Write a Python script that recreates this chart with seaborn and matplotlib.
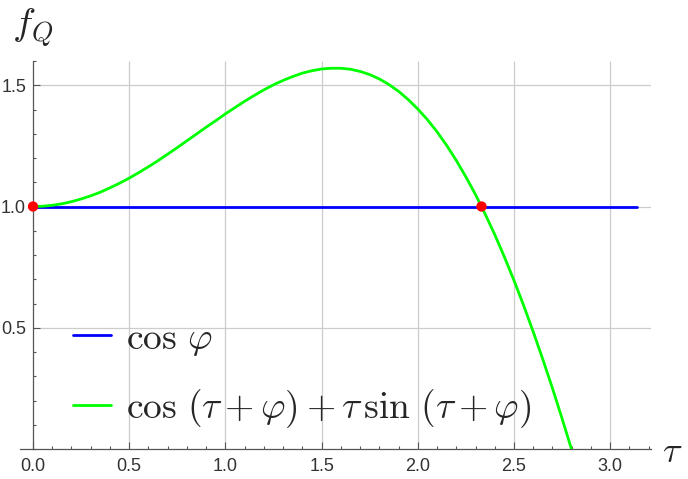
import matplotlib
matplotlib.use("Agg")
import matplotlib.pyplot as plt
import seaborn as sns
import pandas as pd
from matplotlib.ticker import MultipleLocator

# ---- data ----
tau_green = [0.0, 0.05, 0.1, 0.15, 0.2, 0.25, 0.3, 0.35, 0.4, 0.45, 0.5,
             0.55, 0.6, 0.65, 0.7, 0.75, 0.8, 0.85, 0.9, 0.95, 1.0,
             1.05, 1.1, 1.15, 1.2, 1.25, 1.3, 1.35, 1.4, 1.45, 1.5,
             1.55, 1.6, 1.65, 1.7, 1.75, 1.8, 1.85, 1.9, 1.95, 2.0,
             2.05, 2.1, 2.15, 2.2, 2.25, 2.3, 2.35, 2.4, 2.45, 2.5,
             2.55, 2.6, 2.65, 2.7, 2.75, 2.8]
f_green = [1.000, 1.001, 1.005, 1.011, 1.020, 1.031, 1.044, 1.059, 1.077, 1.096, 1.117,
           1.140, 1.164, 1.189, 1.216, 1.243, 1.271, 1.299, 1.327, 1.354, 1.382,
           1.408, 1.434, 1.458, 1.481, 1.502, 1.520, 1.536, 1.550, 1.560, 1.567,
           1.570, 1.570, 1.566, 1.557, 1.544, 1.526, 1.503, 1.475, 1.441, 1.402,
           1.358, 1.308, 1.252, 1.190, 1.122, 1.049, 0.969, 0.884, 0.792, 0.695,
           0.592, 0.483, 0.369, 0.250, 0.125, -0.004]
tau_blue = [0.0, 3.1416]
f_blue = [1.0, 1.0]
tau_points = [0.0, 2.331]
f_points = [1.0, 1.0]
x_ticks = [0.0, 0.5, 1.0, 1.5, 2.0, 2.5, 3.0]
x_ticklabels = ["0.0", "0.5", "1.0", "1.5", "2.0", "2.5", "3.0"]
y_ticks = [0.5, 1.0, 1.5]
y_ticklabels = ["0.5", "1.0", "1.5"]
label_blue = r"$\cos\,\varphi$"
label_green = r"$\cos\,(\tau+\varphi)+\tau\,\sin\,(\tau+\varphi)$"

sns.set_style("white")
plt.rcParams["font.family"] = ["Liberation Sans", "DejaVu Sans"]
plt.rcParams["mathtext.fontset"] = "cm"

df_blue = pd.DataFrame({"tau": tau_blue, "f": f_blue})
df_green = pd.DataFrame({"tau": tau_green, "f": f_green})
df_pts = pd.DataFrame({"tau": tau_points, "f": f_points})

fig = plt.figure(figsize=(6.88, 4.79), dpi=100)
ax = fig.add_axes([20 / 688, 30 / 479, 631 / 688, 388 / 479])

xmin, xmax = -0.0676, 3.212
ymin, ymax = 0.0, 1.6
ax.set_xlim(xmin, xmax)
ax.set_ylim(ymin, ymax)

grid_c = "#cccccc"
ax.vlines(x_ticks[1:], ymin, ymax, color=grid_c, lw=0.9, zorder=0)
ax.hlines(y_ticks, 0, xmax, color=grid_c, lw=0.9, zorder=0)

sns.lineplot(data=df_blue, x="tau", y="f", ax=ax, color="#0000ff", lw=2.0,
             label=label_blue, estimator=None, sort=False, zorder=3)
sns.lineplot(data=df_green, x="tau", y="f", ax=ax, color="#00ff00", lw=2.0,
             label=label_green, estimator=None, sort=False, zorder=4)
for ln in ax.get_lines():
    ln.set_solid_joinstyle("round")
sns.scatterplot(data=df_pts, x="tau", y="f", ax=ax, color="#ff0000", s=55,
                edgecolor="none", zorder=5, clip_on=False, legend=False)

for s in ["top", "right"]:
    ax.spines[s].set_visible(False)
ax.spines["left"].set_position(("data", 0))
ax.spines["bottom"].set_position(("data", 0))
for s in ["left", "bottom"]:
    ax.spines[s].set_color("#555555")
    ax.spines[s].set_linewidth(0.9)

ax.set_xticks(x_ticks)
ax.set_xticklabels(x_ticklabels)
ax.set_yticks(y_ticks)
ax.set_yticklabels(y_ticklabels)
ax.xaxis.set_minor_locator(MultipleLocator(0.1))
ax.yaxis.set_minor_locator(MultipleLocator(0.1))
ax.tick_params(which="major", direction="in", length=4.8, width=0.8, color="#555555",
               labelsize=13, labelcolor="#333333")
ax.tick_params(which="minor", direction="in", length=2.3, width=0.8, color="#555555")
ax.tick_params(axis="x", which="both", bottom=True, pad=6.5)
ax.tick_params(axis="y", which="both", left=True, pad=5)
ax.set_xlabel("")
ax.set_ylabel("")

fig.text(33 / 688, 1 - 28 / 479, r"$f_Q$", fontsize=28, ha="center", va="center")
fig.text(672 / 688, 1 - 452 / 479, r"$\tau$", fontsize=26, ha="center", va="center")

ax.legend(loc="lower left", bbox_to_anchor=(0.084, 0.05), frameon=False,
          fontsize=27, handlelength=1.0, handletextpad=0.4, borderpad=0,
          borderaxespad=0, labelspacing=0.78)

fig.savefig("out.png", dpi=100)
